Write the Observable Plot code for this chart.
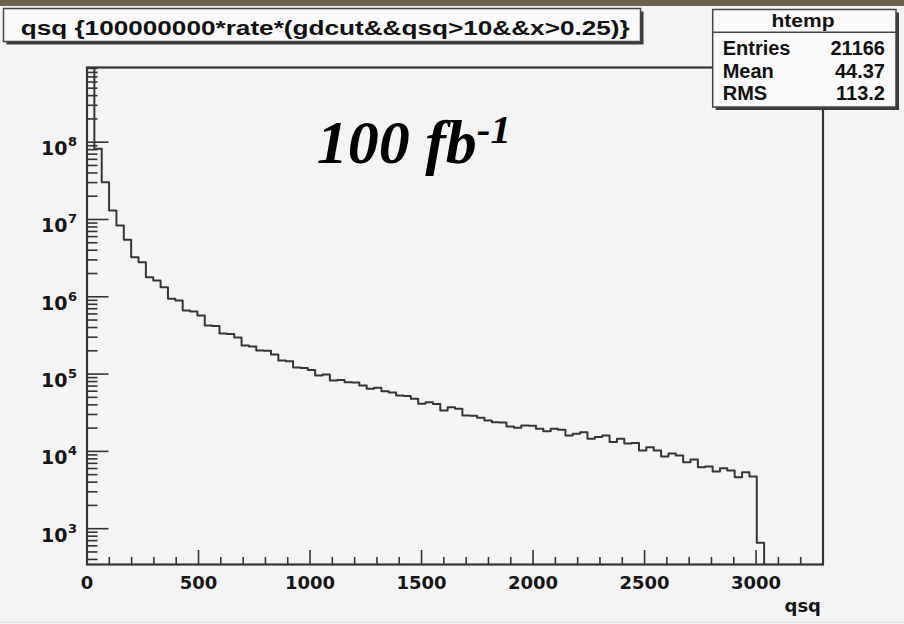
<!DOCTYPE html>
<html><head><meta charset="utf-8">
<script src="https://cdn.jsdelivr.net/npm/d3@7"></script>
<script src="https://cdn.jsdelivr.net/npm/@observablehq/plot@0.6"></script>
<style>
html,body{margin:0;padding:0;background:#f4f4f4;}
#chart{width:904px;height:624px;overflow:hidden}
</style></head><body><div id="chart"></div>
<script>
// histogram binning (100 bins over 0..3300 → width 33); bins after index 91 are empty
const binWidth = 33;
// bin contents (bin 0 is off-scale above the frame)
const counts = [
  5e9, 8.2e7, 3.04e7, 1.31e7, 8.36e6, 5.46e6, 3.25e6, 2.8e6, 1.79e6, 1.63e6,
  1.33e6, 9.4e5, 8.96e5, 6.65e5, 6.45e5, 5.73e5, 4.26e5, 4.2e5, 3.35e5, 3.3e5,
  2.97e5, 2.34e5, 2.27e5, 2.02e5, 2.0e5, 1.79e5, 1.5e5, 1.46e5, 1.22e5, 1.2e5,
  1.13e5, 9.6e4, 9.9e4, 8.26e4, 8.4e4, 7.86e4, 7.8e4, 7.13e4, 6.45e4, 6.65e4,
  6.0e4, 5.78e4, 5.29e4, 5.2e4, 4.79e4, 4.13e4, 4.33e4, 4.1e4, 3.38e4, 3.73e4,
  3.56e4, 2.91e4, 2.9e4, 2.72e4, 2.51e4, 2.39e4, 2.37e4, 2.1e4, 2.02e4, 2.16e4,
  2.14e4, 1.96e4, 1.82e4, 1.96e4, 1.9e4, 1.61e4, 1.69e4, 1.77e4, 1.46e4, 1.53e4,
  1.61e4, 1.32e4, 1.46e4, 1.26e4, 1.28e4, 1.03e4, 1.13e4, 1.03e4, 8.6e3, 9.4e3,
  8.85e3, 7.25e3, 7.85e3, 6.25e3, 6.35e3, 5.5e3, 6.07e3, 5.66e3, 4.64e3, 5.38e3,
  4.73e3, 658
];
const xDomain = [0, 3300];
const yDomain = [344, 9.25e8];
const xMajorTicks = [0, 500, 1000, 1500, 2000, 2500, 3000];
const xMinorTicks = [100,200,300,400,600,700,800,900,1100,1200,1300,1400,1600,1700,1800,1900,
  2100,2200,2300,2400,2600,2700,2800,2900,3100,3200];
const yMajorTicks = [1e3, 1e4, 1e5, 1e6, 1e7, 1e8];
const yTickBase = "10";
const yTickExponents = ["3", "4", "5", "6", "7", "8"];
const yMinorMultipliers = [2,3,4,5,6,7,8,9];
const yMinorDecades = [1e2,1e3,1e4,1e5,1e6,1e7,1e8];
const xLabel = "qsq";
const titleText = "qsq {100000000*rate*(gdcut&&qsq>10&&x>0.25)}";
const statsName = "htemp";
const statsLabels = ["Entries", "Mean", "RMS"];
const statsValues = ["21166", "44.37", "113.2"];
const lumiMain = "100 fb";
const lumiSup = "-1";

const W = 904, H = 624, mL = 86.5, mR = 81.5, mT = 67, mB = 60;
const innerW = W - mL - mR, innerH = H - mT - mB;
const ink = "#333";

const yMinorTicks = [];
for (const d of yMinorDecades) for (const m of yMinorMultipliers) {
  const v = m * d; if (v >= yDomain[0] && v <= yDomain[1]) yMinorTicks.push(v);
}

const steps = counts.map((c, i) => ({x: i * binWidth, y: c}));
steps.push({x: counts.length * binWidth, y: counts[counts.length - 1]});
steps.push({x: counts.length * binWidth, y: 1});

const sans = "DejaVu Sans, sans-serif";
const plot = Plot.plot({
  width: W, height: H,
  marginLeft: mL, marginRight: mR, marginTop: mT, marginBottom: mB,
  style: {background: "#f4f4f4", overflow: "visible"},
  x: {domain: xDomain, axis: null},
  y: {type: "log", domain: yDomain, axis: null},
  marks: [
    Plot.line(steps, {x: "x", y: "y", curve: "step-after", stroke: "#353535", strokeWidth: 2, clip: true}),
    Plot.tickX(xMajorTicks, {x: d => d, insetTop: innerH - 14, stroke: ink, strokeWidth: 1.6}),
    Plot.tickX(xMinorTicks, {x: d => d, insetTop: innerH - 7, stroke: ink, strokeWidth: 1.6}),
    Plot.tickY(yMajorTicks, {y: d => d, insetRight: innerW - 22, stroke: ink, strokeWidth: 1.6}),
    Plot.tickY(yMinorTicks, {y: d => d, insetRight: innerW - 11, stroke: ink, strokeWidth: 1.6}),
    Plot.frame({stroke: ink, strokeWidth: 2.2}),
    Plot.text(xMajorTicks, {x: d => d, text: d => String(d), frameAnchor: "bottom", lineAnchor: "bottom",
      dy: 24, fontFamily: sans, fontWeight: "bold", fontSize: 18, fill: "#151515"}),
    Plot.text(yMajorTicks, {y: d => d, text: () => yTickBase, frameAnchor: "left", textAnchor: "end",
      lineAnchor: "bottom", dx: -19.5, dy: 13, fontFamily: sans, fontWeight: "bold", fontSize: 19, fill: "#151515"}),
    Plot.text(yMajorTicks, {y: d => d, text: (d, i) => yTickExponents[i], frameAnchor: "left", textAnchor: "start",
      lineAnchor: "bottom", dx: -19, dy: 4, fontFamily: sans, fontWeight: "bold", fontSize: 13, fill: "#151515"}),
    Plot.text([xLabel], {text: d => d, frameAnchor: "bottom-right", textAnchor: "end", lineAnchor: "bottom",
      dy: 47, dx: -2, fontFamily: sans, fontWeight: "bold", fontSize: 18, fill: "#151515"})
  ]
});
document.getElementById("chart").appendChild(plot);

// annotations (title pave, stats box, luminosity label)
const svg = d3.select(plot);
const ann = svg.append("g").attr("text-anchor", "start");
ann.append("rect").attr("x", 0).attr("y", 0).attr("width", W).attr("height", 6).attr("fill", "#6b634b");
ann.append("line").attr("x1", 0).attr("x2", W).attr("y1", 622).attr("y2", 622).attr("stroke", "#e2e2e2").attr("stroke-width", 1.5);
function pave(x, y, w, h) {
  ann.append("rect").attr("x", x + 3).attr("y", y + 3).attr("width", w).attr("height", h).attr("fill", "#3a3a3a");
  ann.append("rect").attr("x", x).attr("y", y).attr("width", w).attr("height", h)
    .attr("fill", "#fafafa").attr("stroke", "#444").attr("stroke-width", 1.5);
}
const lsans = "Liberation Sans, Arial, Helvetica, sans-serif";
pave(3.5, 8.5, 637, 33);
ann.append("text").attr("x", 20.7).attr("y", 35).attr("text-anchor", "start").attr("font-family", lsans).attr("font-weight", "bold")
  .attr("font-size", 20).attr("fill", "#111").attr("textLength", 609).attr("lengthAdjust", "spacingAndGlyphs")
  .text(titleText);

pave(712.7, 9.5, 183.3, 97.5);
ann.append("line").attr("x1", 712.7).attr("x2", 896).attr("y1", 32.3).attr("y2", 32.3).attr("stroke", "#444").attr("stroke-width", 1.5);
ann.append("text").attr("x", 803).attr("y", 27).attr("text-anchor", "middle").attr("font-family", lsans)
  .attr("font-weight", "bold").attr("font-size", 18).attr("fill", "#111")
  .attr("textLength", 63).attr("lengthAdjust", "spacingAndGlyphs").text(statsName);
const rowY = [55, 78, 100];
statsLabels.forEach((s, i) => {
  ann.append("text").attr("x", 722.7).attr("y", rowY[i]).attr("text-anchor", "start").attr("font-family", lsans).attr("font-weight", "bold")
    .attr("font-size", 20).attr("fill", "#111").text(s);
  ann.append("text").attr("x", 885).attr("y", rowY[i]).attr("text-anchor", "end").attr("font-family", lsans)
    .attr("font-weight", "bold").attr("font-size", 20).attr("fill", "#111").text(statsValues[i]);
});

const lumi = ann.append("text").attr("x", 316.7).attr("y", 163).attr("text-anchor", "start")
  .attr("font-family", "Liberation Serif, Times New Roman, serif").attr("font-weight", "bold")
  .attr("font-style", "italic").attr("fill", "#000");
lumi.append("tspan").attr("font-size", 62).text(lumiMain);
lumi.append("tspan").attr("font-size", 41).attr("dy", -20).text(lumiSup);
</script></body></html>
